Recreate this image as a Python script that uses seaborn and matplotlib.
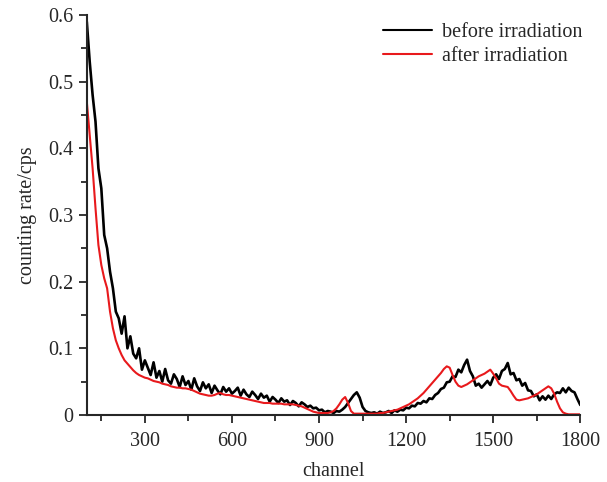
import numpy as np
import pandas as pd
import seaborn as sns
import matplotlib.pyplot as plt

# channel grid (every 10 channels)
channels = list(range(100, 1810, 10))

before = [
    0.59, 0.53, 0.48, 0.44, 0.37, 0.34, 0.27, 0.25, 0.215, 0.19,
    0.155, 0.145, 0.122, 0.148, 0.1, 0.118, 0.092, 0.085, 0.1, 0.068,
    0.082, 0.071, 0.06, 0.079, 0.056, 0.066, 0.05, 0.069, 0.052, 0.047,
    0.061, 0.054, 0.042, 0.058, 0.045, 0.051, 0.038, 0.055, 0.043, 0.036,
    0.049, 0.04, 0.046, 0.033, 0.044, 0.037, 0.031, 0.042, 0.035, 0.04,
    0.032, 0.036, 0.041, 0.029, 0.038, 0.031, 0.027, 0.035, 0.03, 0.024,
    0.032, 0.026, 0.029, 0.02, 0.027, 0.023, 0.018, 0.025, 0.02, 0.022,
    0.015, 0.021, 0.018, 0.013, 0.019, 0.016, 0.012, 0.014, 0.01, 0.011,
    0.007, 0.008, 0.004, 0.006, 0.005, 0.003, 0.006, 0.005, 0.008, 0.012,
    0.018, 0.024, 0.03, 0.034, 0.026, 0.012, 0.006, 0.004, 0.003, 0.004,
    0.002, 0.005, 0.003, 0.004, 0.006, 0.003, 0.007, 0.005, 0.008, 0.007,
    0.011, 0.01, 0.014, 0.013, 0.018, 0.017, 0.021, 0.019, 0.025, 0.024,
    0.03, 0.033, 0.039, 0.041, 0.049, 0.05, 0.058, 0.057, 0.068, 0.064,
    0.075, 0.083, 0.066, 0.058, 0.044, 0.047, 0.041, 0.046, 0.051, 0.045,
    0.056, 0.061, 0.054, 0.066, 0.069, 0.078, 0.061, 0.063, 0.052, 0.054,
    0.044, 0.048, 0.037, 0.036, 0.028, 0.031, 0.022, 0.028, 0.023, 0.029,
    0.024, 0.031, 0.034, 0.033, 0.04, 0.034, 0.041, 0.036, 0.034, 0.024,
    0.015,
]

after = [
    0.47, 0.42, 0.37, 0.31, 0.255, 0.225, 0.205, 0.19, 0.155, 0.13,
    0.112, 0.1, 0.09, 0.082, 0.077, 0.072, 0.067, 0.063, 0.06, 0.058,
    0.056, 0.055, 0.053, 0.051, 0.05, 0.049, 0.047, 0.046, 0.045, 0.043,
    0.042, 0.041, 0.041, 0.04, 0.04, 0.039, 0.038, 0.036, 0.034, 0.032,
    0.031, 0.03, 0.029, 0.029, 0.03, 0.032, 0.033, 0.031, 0.03, 0.03,
    0.029, 0.028, 0.027, 0.026, 0.025, 0.024, 0.023, 0.022, 0.021, 0.02,
    0.019, 0.018, 0.018, 0.018, 0.017, 0.017, 0.017, 0.017, 0.016, 0.016,
    0.016, 0.016, 0.015, 0.014, 0.013, 0.011, 0.009, 0.007, 0.005, 0.004,
    0.003, 0.003, 0.003, 0.003, 0.004, 0.006, 0.01, 0.016, 0.023, 0.027,
    0.018, 0.006, 0.002, 0.002, 0.002, 0.002, 0.002, 0.002, 0.002, 0.002,
    0.002, 0.003, 0.003, 0.004, 0.005, 0.006, 0.007, 0.008, 0.01, 0.012,
    0.014, 0.016, 0.019, 0.022, 0.025, 0.029, 0.033, 0.038, 0.043, 0.048,
    0.053, 0.058, 0.063, 0.069, 0.073, 0.071, 0.06, 0.05, 0.044, 0.042,
    0.044, 0.046, 0.049, 0.052, 0.055, 0.058, 0.06, 0.062, 0.065, 0.068,
    0.062, 0.055, 0.047, 0.044, 0.043, 0.042, 0.036, 0.029, 0.023, 0.022,
    0.023, 0.024, 0.025, 0.027, 0.029, 0.031, 0.034, 0.037, 0.04, 0.043,
    0.04, 0.032, 0.02, 0.01, 0.004, 0.002, 0.001, 0.001, 0.001, 0.001,
    0.001,
]

labels = ["before irradiation", "after irradiation"]

df = pd.DataFrame({
    "channel": channels * 2,
    "rate": before + after,
    "state": [labels[0]] * len(channels) + [labels[1]] * len(channels),
})

sns.set_theme(style="ticks")
plt.rcParams["font.family"] = ["Liberation Serif", "DejaVu Serif"]

fig = plt.figure(figsize=(6.07, 4.82), dpi=100)
ax = fig.add_axes([0.143, 0.139, 0.813, 0.83])

sns.lineplot(data=df, x="channel", y="rate", hue="state",
             palette={labels[0]: "black", labels[1]: "#e8191c"},
             linewidth=1.5, ax=ax)
ax.lines[0].set_linewidth(1.9)

ax.set_xlim(100, 1800)
ax.set_ylim(0, 0.6)
ax.set_xticks([300, 600, 900, 1200, 1500, 1800])
ax.set_xticks(range(150, 1800, 300), minor=True)
ax.set_yticks([0, 0.1, 0.2, 0.3, 0.4, 0.5, 0.6])
ax.set_yticklabels(["0", "0.1", "0.2", "0.3", "0.4", "0.5", "0.6"])
ax.set_yticks([0.05, 0.15, 0.25, 0.35, 0.45, 0.55], minor=True)
ax.tick_params(axis="both", which="major", length=6, width=1.3, labelsize=14.5)
ax.tick_params(axis="both", which="minor", length=4, width=1.3)
ax.tick_params(axis="x", pad=6)
for s in ["left", "bottom"]:
    ax.spines[s].set_linewidth(1.5)
sns.despine(ax=ax)

ax.set_xlabel("channel", fontsize=14.5, labelpad=8)
ax.set_ylabel("counting rate/cps", fontsize=14.5, labelpad=8)

leg = ax.legend(loc="upper right", frameon=False, fontsize=14.5, title=None,
                handlelength=2.4, handletextpad=0.5, borderaxespad=0.0,
                labelspacing=0.25, bbox_to_anchor=(1.02, 1.0))
for h in leg.get_lines():
    h.set_linewidth(1.5)

plt.savefig("out.png", dpi=100)
